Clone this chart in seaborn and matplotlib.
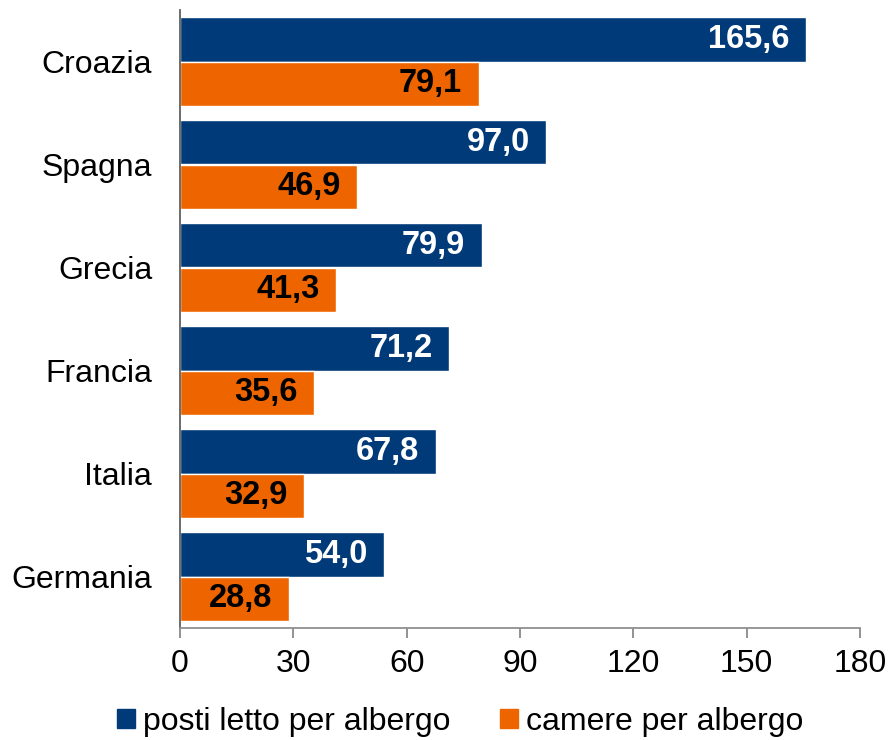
import pandas as pd
import matplotlib
matplotlib.use("Agg")
import matplotlib.pyplot as plt
import seaborn as sns
from matplotlib.patches import Patch

paesi = ["Croazia", "Spagna", "Grecia", "Francia", "Italia", "Germania"]
posti_letto = [165.6, 97.0, 79.9, 71.2, 67.8, 54.0]
camere = [79.1, 46.9, 41.3, 35.6, 32.9, 28.8]
serie = ["posti letto per albergo", "camere per albergo"]
x_ticks = [0, 30, 60, 90, 120, 150, 180]

navy = "#003A78"
orange = "#EE6500"

df = pd.DataFrame({
    "paese": paesi * 2,
    "serie": [serie[0]] * len(paesi) + [serie[1]] * len(paesi),
    "valore": posti_letto + camere,
})

sns.set_style("white")
plt.rcParams["font.family"] = ["Liberation Sans", "DejaVu Sans"]
plt.rcParams["text.color"] = "black"
plt.rcParams["xtick.labelcolor"] = "black"
plt.rcParams["ytick.labelcolor"] = "black"

fig = plt.figure(figsize=(8.9, 7.4), dpi=100)
ax = fig.add_axes([180 / 890, 1 - 628 / 740, 680 / 890, 618 / 740])

sns.barplot(data=df, y="paese", x="valore", hue="serie", order=paesi,
            hue_order=serie, palette=[navy, orange], width=0.87,
            orient="h", saturation=1, legend=False, ax=ax)

# etichette dentro le barre
for cont, col in zip(ax.containers, ["white", "black"]):
    for p in cont:
        w = p.get_width()
        ax.annotate(f"{w:.1f}".replace(".", ","),
                    (w, p.get_y() + p.get_height() / 2),
                    xytext=(-12, 0), textcoords="offset points",
                    ha="right", va="center", fontsize=23.5,
                    fontweight="bold", color=col)

ax.set_xlim(0, 180)
ax.set_ylim(5.5, -0.5)
ax.set_xticks(x_ticks)
ax.set_xlabel("")
ax.set_ylabel("")
ax.tick_params(axis="x", labelsize=23, length=7, width=1.2,
               color="#808080", pad=8, direction="out", bottom=True)
ax.tick_params(axis="y", labelsize=23, length=0, pad=20)

for s in ["top", "right"]:
    ax.spines[s].set_visible(False)
ax.spines["left"].set_color("#606060")
ax.spines["bottom"].set_color("#909090")
ax.spines["left"].set_linewidth(1.3)
ax.spines["bottom"].set_linewidth(1.3)

handles = [Patch(color=navy), Patch(color=orange)]
fig.legend(handles, serie, loc="center", bbox_to_anchor=(0.517, 1 - 722 / 740),
           ncol=2, frameon=False, fontsize=23, handlelength=0.55,
           handleheight=0.55, handletextpad=0.25, columnspacing=1.55)

fig.savefig("out.png", dpi=100)
